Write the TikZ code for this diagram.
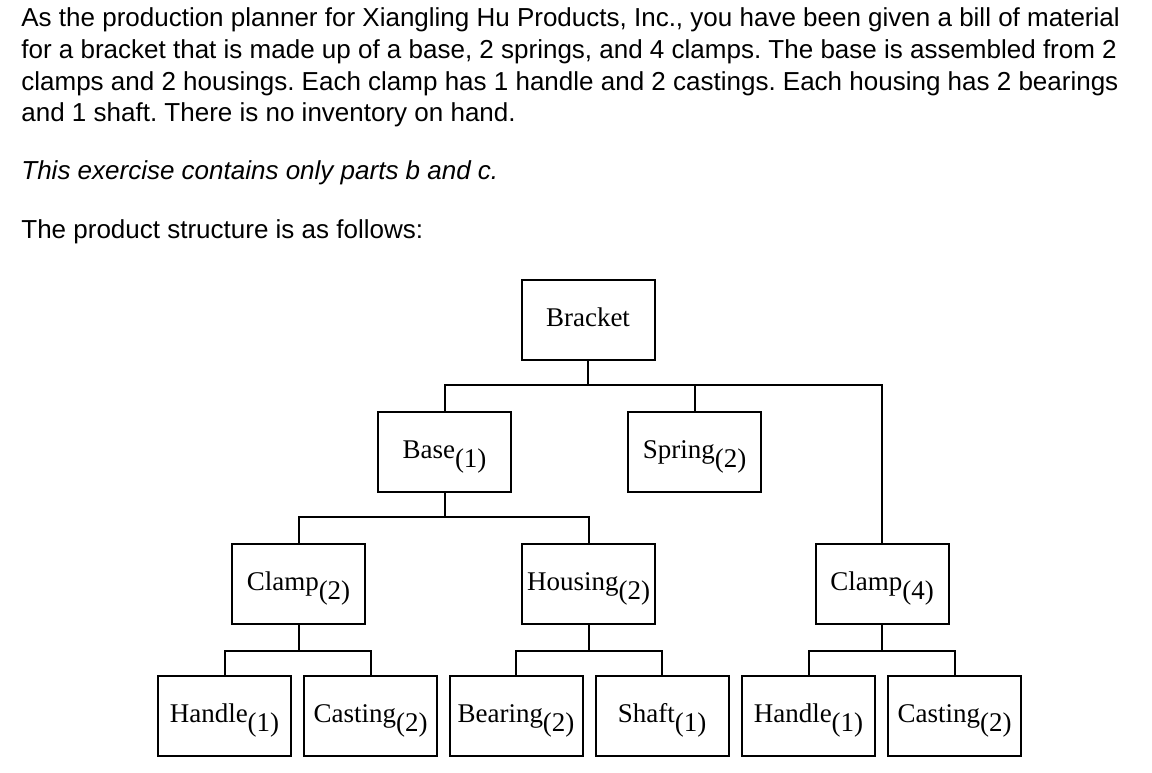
\documentclass[tikz,border=0pt]{standalone}
\usepackage{fontspec}
\setmainfont{Liberation Serif}
\newfontfamily\arialfont{Liberation Sans}
\usetikzlibrary{positioning}
\frenchspacing

% quantity in brackets, set low beside the part name
\newcommand{\lotsub}[1]{\raisebox{-4.5pt}{(#1)}}

\tikzset{
  partbox/.style={draw, line width=1pt, minimum width=66.5pt, minimum height=40pt,
    inner sep=0pt, anchor=north west, text height=10pt, text depth=3.5pt,
    font=\fontsize{13.5}{15}\selectfont},
  bomline/.style={line width=1pt},
  prose/.style={anchor=base west, inner sep=0pt, align=left,
    font=\arialfont\fontsize{13}{15.85}\selectfont}
}

\begin{document}
\begin{tikzpicture}[x=0.5pt, y=-0.5pt]
  \useasboundingbox (0,0) rectangle (1152,772);

  % problem text (base anchor sits on the last line)
  \node[prose] (intro) at (21,121.7) {As the production planner for Xiangling Hu Products, Inc., you have been given a bill of material\\
    for a bracket that is made up of a base, 2 springs, and 4 clamps. The base is assembled from 2\\
    clamps and 2 housings. Each clamp has 1 handle and 2 castings. Each housing has 2 bearings\\
    and 1 shaft. There is no inventory on hand.};
  \node[prose, font=\arialfont\itshape\fontsize{13}{15.85}\selectfont] (note) at (21,179.5) {This exercise contains only parts b and c.};
  \node[prose] (lead) at (21,238.3) {The product structure is as follows:};

  % product structure tree
  \node[partbox] (bracket) at (520.5,279) {Bracket};
  \node[partbox] (base) at (377,411) {Base\lotsub{1}};
  \node[partbox] (spring) at (627,411) {Spring\lotsub{2}};
  \node[partbox] (clampA) at (231,543) {Clamp\lotsub{2}};
  \node[partbox] (housing) at (521,543) {Housing\lotsub{2}};
  \node[partbox] (clampB) at (814.5,543) {Clamp\lotsub{4}};
  \node[partbox] (handleA) at (157,675) {Handle\lotsub{1}};
  \node[partbox] (castingA) at (303,675) {Casting\lotsub{2}};
  \node[partbox] (bearing) at (448.5,675) {Bearing\lotsub{2}};
  \node[partbox] (shaft) at (594.5,675) {Shaft\lotsub{1}};
  \node[partbox] (handleB) at (741,675) {Handle\lotsub{1}};
  \node[partbox] (castingB) at (887,675) {Casting\lotsub{2}};

  \coordinate (busA) at (0,385);
  \coordinate (busB) at (0,517);
  \coordinate (busC) at (0,651);

  \foreach \kid in {base,spring,clampB}
    \draw[bomline] (bracket.south) |- (\kid.north |- busA) -- (\kid.north);
  \foreach \kid in {clampA,housing}
    \draw[bomline] (base.south) |- (\kid.north |- busB) -- (\kid.north);
  \foreach \kid in {handleA,castingA}
    \draw[bomline] (clampA.south) |- (\kid.north |- busC) -- (\kid.north);
  \foreach \kid in {bearing,shaft}
    \draw[bomline] (housing.south) |- (\kid.north |- busC) -- (\kid.north);
  \foreach \kid in {handleB,castingB}
    \draw[bomline] (clampB.south) |- (\kid.north |- busC) -- (\kid.north);
\end{tikzpicture}
\end{document}
